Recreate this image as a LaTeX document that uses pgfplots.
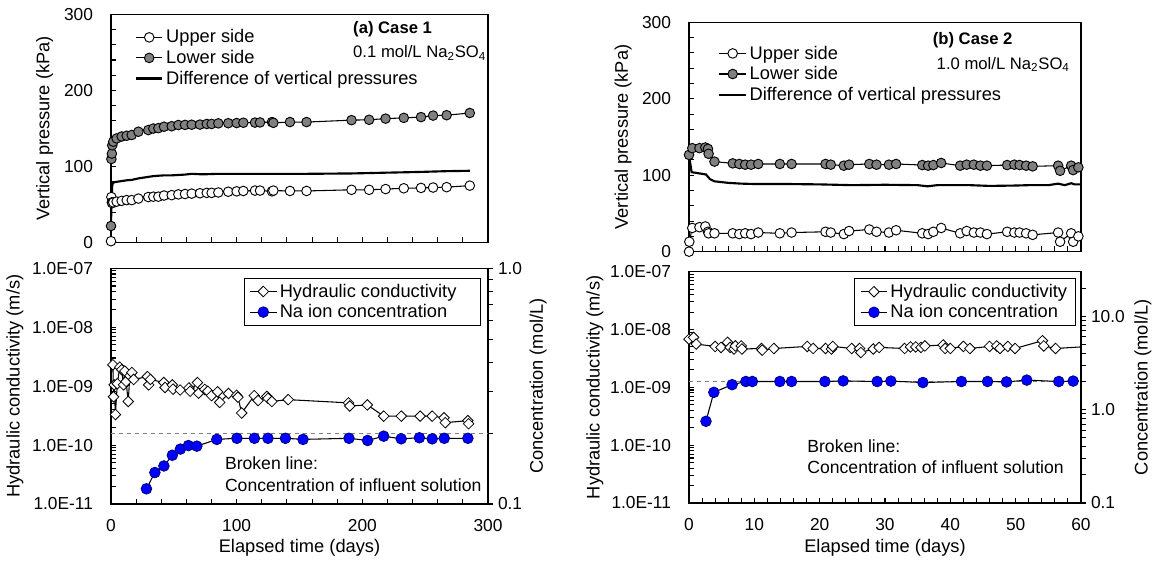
\documentclass[border=0pt]{standalone}
\usepackage{fontspec}
\setmainfont{Liberation Sans}
\usepackage{pgfplots}
\pgfplotsset{compat=1.18}

\definecolor{lowgray}{RGB}{128,128,128}
\definecolor{nablue}{RGB}{0,0,255}
\newcommand{\fs}{\fontsize{13.7}{16.4}\selectfont}
\newcommand{\ft}{\fontsize{13}{15.6}\selectfont}
\newcommand{\fa}{\fontsize{13.2}{16}\selectfont}

\pgfplotsset{
  base/.style={scale only axis, anchor=south west, font=\fs,
    axis line style={line width=1.1pt}, tick style={black, line width=0.8pt},
    major tick length=4pt, minor tick length=4pt,
    tick label style={font=\ft}, xticklabel style={yshift=-8pt},
    /pgf/number format/assume math mode=true},
  lefty/.style={yticklabel style={xshift=-10pt}},
  ylab/.style={every axis y label/.style={at={(axis description cs:#1,0.5)}, rotate=90, anchor=center}},
  xlab/.style={every axis x label/.style={at={(axis description cs:0.5,#1)}, anchor=center}},
  upper/.style={black, line width=0.8pt, mark=*, mark size=3.6pt,
    mark options={fill=white, line width=0.7pt, solid}},
  lower/.style={black, line width=0.8pt, mark=*, mark size=3.6pt,
    mark options={fill=lowgray, line width=0.7pt, solid}},
  diffp/.style={black, line width=1.6pt, no markers},
  hc/.style={black, line width=0.8pt, mark=square*, mark size=2.8pt,
    mark options={fill=white, rotate=45, line width=0.6pt, solid}},
  na/.style={black, line width=0.8pt, mark=*, mark size=4pt,
    mark options={fill=nablue, draw=nablue!50!black, line width=0.6pt, solid}},
  legend image code/.code={%
    \draw[mark repeat=2,mark phase=2] plot coordinates {(0cm,0cm) (0.35cm,0cm) (0.7cm,0cm)};},
  toplegend/.style={legend style={anchor=north west, draw=none,
    fill=none, font=\fs, row sep=0pt, legend cell align=left}},
  botlegend/.style={legend style={draw=black, line width=0.6pt, fill=white,
    font=\fs, row sep=0pt, legend cell align=left, inner xsep=4pt, inner ysep=2pt}},
}

\begin{document}
\begin{tikzpicture}
\path (0,0) rectangle (868.5pt,420.75pt);

% ---------- (a) Case 1, vertical pressure ----------
\begin{axis}[base, lefty, at={(83.25pt,238.7pt)}, width=282.75pt, height=171.3pt,
  xmin=0, xmax=300, ymin=0, ymax=300,
  xtick={0,100,200,300}, xticklabels={}, minor x tick num=4,
  ytick={0,100,200,300}, yticklabels={0,100,200,300}, minor y tick num=4,
  xtick pos=left, ytick pos=left,
  ylabel={Vertical pressure (kPa)}, ylab=-0.176, toplegend,
  legend style={at={(0.052,0.957)}}]
\addplot[upper] coordinates {
(0,2)(0.3,60)(0.7,53)(1,52)(1.8,53)(4.5,54)(8.5,55)(12.5,56)(16.5,56)(21.8,58)
(29.7,60)(33.7,60.5)(37.7,60.5)(42.2,62)(48.3,62.5)(53.6,63.5)(58.9,64)(64.2,64.5)
(70.8,65)(76.2,65.5)(80.1,65.5)(85.4,66)(93.3,67)(100,67.5)(105.3,68)(114.6,68.5)
(118.6,68.5)(128.1,67.5)(129.2,68.5)(142.4,68)(155.6,68)(191.4,69.5)(205.4,69.5)
(218.5,70.5)(233,71.5)(246.7,72)(256.3,72.5)(267.1,73)(285.5,75)};
\addplot[lower] coordinates {
(0,22)(0.3,110)(0.7,117)(1,128)(1.8,132.7)(4.5,137)(8.5,139.5)(12.5,140.5)(16.5,141.5)
(21.8,145.8)(29.7,148)(33.7,150)(37.7,150.5)(42.2,152.4)(48.3,153)(53.6,154.6)
(58.9,154.8)(64.2,155)(70.8,155.2)(76.2,156)(80.1,156)(85.4,156.8)(93.3,157)(100,157.2)
(105.3,157.6)(114.6,157.8)(118.6,158)(128.1,158.5)(129.2,157.5)(142.4,158.5)(155.6,158.5)
(191.4,161)(205.4,161.5)(218.5,163)(233,164)(246.7,165)(256.3,167)(267.1,167.5)(285.5,170.4)};
\addplot[diffp] coordinates {
(0,20)(0.3,50)(0.7,64)(1,76)(1.8,79)(4.5,80)(8.5,81)(12.5,82)(16.5,82.5)(21.8,84.5)
(29.7,86.5)(33.7,87.5)(37.7,88)(42.2,88.5)(48.3,88.5)(53.6,89)(58.9,89.5)(64.2,90.5)
(70.8,90)(76.2,90)(85.4,90.5)(100,90.5)(114.6,90.5)(128.1,90.5)(142.4,90.5)(155.6,90.5)
(191.4,91)(205.4,91.5)(218.5,92)(233,92.5)(246.7,93)(256.3,93.5)(267.1,94)(285.5,94.5)};
\legend{Upper side, Lower side, Difference of vertical pressures}
\node[anchor=west, font=\fontsize{12.5}{14}\selectfont\bfseries] at (rel axis cs:0.63,0.933) {(a) Case 1};
\node[anchor=west, font=\fontsize{12.5}{14}\selectfont] at (rel axis cs:0.63,0.83) {0.1 mol/L Na\textsubscript{2}SO\textsubscript{4}};
\end{axis}

% ---------- (a) Case 1, conductivity ----------
\begin{axis}[base, lefty, at={(83.25pt,42.75pt)}, width=282.75pt, height=176.8pt,
  xmin=0, xmax=300, ymode=log, ymin=1e-11, ymax=1e-7,
  xtick={0,100,200,300}, xticklabels={0,100,200,300}, minor x tick num=4,
  ytick={1e-11,1e-10,1e-9,1e-8,1e-7},
  yticklabels={1.0E-11,1.0E-10,1.0E-09,1.0E-08,1.0E-07},
  minor ytick={2e-11,3e-11,4e-11,5e-11,6e-11,7e-11,8e-11,9e-11,
    2e-10,3e-10,4e-10,5e-10,6e-10,7e-10,8e-10,9e-10,
    2e-9,3e-9,4e-9,5e-9,6e-9,7e-9,8e-9,9e-9,
    2e-8,3e-8,4e-8,5e-8,6e-8,7e-8,8e-8,9e-8},
  xtick pos=left, ytick pos=left,
  xlabel={Elapsed time (days)}, xlab=-0.186,
  ylabel={Hydraulic conductivity (m/s)}, ylab=-0.255]
\addplot[hc] coordinates {
(1.5,2.3e-9)(2,6.6e-10)(2.5,1.05e-9)(3.5,3.3e-10)(5,1.1e-9)(7,2.1e-9)(8.5,1.9e-9)
(10,1.05e-9)(11,1.8e-9)(12,1.2e-9)(13.7,5.5e-10)(15,1.5e-9)(16.6,1.7e-9)(18,1.3e-9)
(29,1.45e-9)(30,1.05e-9)(31.4,1.3e-9)(42,1.15e-9)(43,9.5e-10)(48.8,1.05e-9)(49.4,8.9e-10)
(55,8.6e-10)(62,9.3e-10)(63,8.2e-10)(68.8,1.15e-9)(69.7,7.6e-10)(74.6,8.8e-10)(77,8.2e-10)
(80,6.9e-10)(84.8,8.0e-10)(86.5,5.3e-10)(93.5,7.5e-10)(100,7.0e-10)(101,6.5e-10)
(104,3.5e-10)(114,6.9e-10)(117,5.7e-10)(124,6.7e-10)(125,6.2e-10)(128,5.5e-10)
(141,5.9e-10)(189,5.2e-10)(190,4.6e-10)(204,4.8e-10)(217,3.1e-10)(231,3.1e-10)
(246,3.1e-10)(255.6,3.1e-10)(265,2.9e-10)(266,2.4e-10)(284,2.6e-10)(284.6,2.3e-10)};
\node[anchor=west, align=left, font=\fa] at (rel axis cs:0.29,0.126) {Broken line:\\Concentration of influent solution};
\end{axis}
\begin{axis}[base, at={(83.25pt,42.75pt)}, width=282.75pt, height=176.8pt,
  xmin=0, xmax=300, axis x line=none, axis y line*=right,
  ymode=log, ymin=0.1, ymax=1, ytick={0.1,1}, yticklabels={0.1,1.0},
  minor ytick={0.2,0.3,0.4,0.5,0.6,0.7,0.8,0.9}, tick align=outside,
  ylabel={Concentration (mol/L)}, ylab=1.133, botlegend,
  legend style={at={(0.981,0.958)}, anchor=north east}]
\addlegendimage{hc}
\addlegendentry{Hydraulic conductivity\hspace*{12pt}}
\addplot[gray, dashed, line width=0.6pt, forget plot] coordinates {(0,0.2)(300,0.2)};
\addplot[na] coordinates {
(28.2,0.116)(34.9,0.136)(42.1,0.145)(48.8,0.161)(55.2,0.171)(61.6,0.177)(68.3,0.176)
(84.2,0.188)(100.2,0.19)(114.1,0.19)(124.9,0.19)(138.8,0.19)(152.8,0.188)(189.4,0.19)
(204.2,0.186)(217,0.194)(230.9,0.189)(245.4,0.191)(255.6,0.189)(265.2,0.19)(284,0.19)};
\addlegendentry{Na ion concentration}
\end{axis}

% ---------- (b) Case 2, vertical pressure ----------
\begin{axis}[base, lefty, at={(516.75pt,232pt)}, width=294pt, height=172pt,
  xmin=0, xmax=60, ymin=0, ymax=300,
  xtick={0,10,20,30,40,50,60}, xticklabels={}, minor x tick num=4,
  ytick={0,100,200,300}, yticklabels={0,100,200,300}, minor y tick num=4,
  xtick pos=left, ytick pos=left,
  ylabel={Vertical pressure (kPa)}, ylab=-0.168, toplegend,
  legend style={at={(0.064,0.922)}}]
\addplot[upper] coordinates {
(0,0)(0.05,13)(0.5,31)(1.6,32)(2.5,33)(2.9,26)(3.0,24)(3.9,24)(6.7,24)(7.7,23)(8.6,24)
(9.5,23)(10.6,25)(13.9,24)(15.7,25)(20.9,26)(21.7,25)(23.7,23)(24.5,27)(27.6,29)
(28.7,26)(30.6,25)(31.7,28)(35.7,24)(36.6,23)(37.4,26)(38.6,31)(41.5,24)(42.5,27)
(43.6,25)(44.6,25)(45.6,23)(48.7,26)(49.8,25)(50.6,25)(51.6,24)(52.6,22)(56.5,25)
(56.8,13)(58.5,24)(58.8,13)(59.6,20)};
\addplot[lower] coordinates {
(0,126.6)(0.5,135.4)(1.6,135.4)(2.5,136.3)(2.9,134.5)(3.0,128)(3.9,117.8)(6.7,115.5)
(7.7,114.7)(8.6,113.8)(9.5,113.8)(10.6,114.7)(13.9,114.7)(15.7,114.7)(20.9,114.7)
(21.7,113.8)(23.7,112.5)(24.5,113.8)(27.6,114.7)(28.7,113.8)(30.6,113.8)(31.7,114.7)
(35.7,113.3)(36.6,112.5)(37.4,113.3)(38.6,116)(41.5,112.5)(42.5,113.8)(43.6,113.8)
(44.6,112.5)(45.6,112.5)(48.7,113.3)(49.8,113.8)(50.6,113.3)(51.6,112.5)(52.6,111.6)
(56.5,112.5)(56.8,105.8)(58.5,112.5)(58.8,106.7)(59.6,110.3)};
\addplot[diffp] coordinates {
(0,126)(0.4,104)(2.6,101)(3.2,95)(3.9,92)(6,90)(8,89)(10,88.5)(15,88.5)(20,88)(25,87)
(30,87.5)(35,87)(36.5,85.5)(38,87)(40,87)(43,87)(46,86)(50,86.5)(52,87)(55,87)
(56.5,89)(57.5,87)(58.5,89.5)(59,88)(60,88)};
\legend{Upper side, Lower side, Difference of vertical pressures}
\node[anchor=west, font=\fontsize{12.5}{14}\selectfont\bfseries] at (rel axis cs:0.61,0.922) {(b) Case 2};
\node[anchor=west, font=\fontsize{12.5}{14}\selectfont] at (rel axis cs:0.62,0.816) {1.0 mol/L Na\textsubscript{2}SO\textsubscript{4}};
\end{axis}

% ---------- (b) Case 2, conductivity ----------
\begin{axis}[base, lefty, at={(516.75pt,43.5pt)}, width=294pt, height=173.5pt,
  xmin=0, xmax=60, ymode=log, ymin=1e-11, ymax=1e-7,
  xtick={0,10,20,30,40,50,60}, xticklabels={0,10,20,30,40,50,60}, minor x tick num=4,
  ytick={1e-11,1e-10,1e-9,1e-8,1e-7},
  yticklabels={1.0E-11,1.0E-10,1.0E-09,1.0E-08,1.0E-07},
  minor ytick={2e-11,3e-11,4e-11,5e-11,6e-11,7e-11,8e-11,9e-11,
    2e-10,3e-10,4e-10,5e-10,6e-10,7e-10,8e-10,9e-10,
    2e-9,3e-9,4e-9,5e-9,6e-9,7e-9,8e-9,9e-9,
    2e-8,3e-8,4e-8,5e-8,6e-8,7e-8,8e-8,9e-8},
  xtick pos=left, ytick pos=left,
  xlabel={Elapsed time (days)}, xlab=-0.195,
  ylabel={Hydraulic conductivity (m/s)}, ylab=-0.24]
\addplot[hc] coordinates {
(0,6.8e-9)(0.7,7.3e-9)(1.1,5.6e-9)(4.0,5.1e-9)(4.9,4.9e-9)(5.9,6.0e-9)(6.3,4.9e-9)
(6.9,4.6e-9)(7.1,5.2e-9)(8.0,5.2e-9)(8.1,4.6e-9)(11.1,4.7e-9)(11.2,4.4e-9)(13.0,4.7e-9)
(18.1,5.1e-9)(19.0,4.7e-9)(20.9,4.7e-9)(21.8,4.6e-9)(22.0,5.1e-9)(24.9,4.7e-9)
(26.1,4.7e-9)(26.3,4.0e-9)(28.2,4.6e-9)(29.1,4.9e-9)(33.0,4.7e-9)(33.9,5.0e-9)
(34.7,5.0e-9)(35.5,4.9e-9)(36.1,5.2e-9)(38.9,5.4e-9)(39.2,4.7e-9)(40.0,4.7e-9)
(42.0,5.1e-9)(43.0,4.7e-9)(46.0,5.1e-9)(47.1,5.2e-9)(47.6,4.7e-9)(48.8,5.1e-9)
(49.9,4.7e-9)(54.1,6.4e-9)(54.3,5.2e-9)(56.1,4.7e-9)};
\addplot[black, line width=0.8pt, no markers] coordinates {(56.1,4.7e-9)(60,5.0e-9)};
\node[anchor=west, align=left, font=\fa] at (rel axis cs:0.29,0.2) {Broken line:\\Concentration of influent solution};
\end{axis}
\begin{axis}[base, at={(516.75pt,43.5pt)}, width=294pt, height=173.5pt,
  xmin=0, xmax=60, axis x line=none, axis y line*=right,
  ymode=log, ymin=0.1, ymax=30, ytick={0.1,1,10}, yticklabels={0.1,1.0,10.0},
  minor ytick={0.2,0.3,0.4,0.5,0.6,0.7,0.8,0.9,2,3,4,5,6,7,8,9,20},
  tick align=outside,
  ylabel={Concentration (mol/L)}, ylab=1.158, botlegend,
  legend style={at={(0.986,0.971)}, anchor=north east}]
\addlegendimage{hc}
\addlegendentry{Hydraulic conductivity}
\addplot[gray, dashed, line width=0.6pt, forget plot] coordinates {(0,2.0)(60,2.0)};
\addplot[na] coordinates {
(2.6,0.75)(3.8,1.53)(6.6,1.85)(8.7,2.0)(9.7,2.0)(13.9,2.0)(15.7,2.0)(20.8,2.0)(23.6,2.03)
(28.8,2.0)(30.9,2.02)(35.8,1.95)(41.7,2.0)(45.7,2.0)(48.6,1.98)(51.7,2.07)(56.6,2.0)(58.8,2.02)};
\addlegendentry{Na ion concentration}
\end{axis}
\end{tikzpicture}
\end{document}
